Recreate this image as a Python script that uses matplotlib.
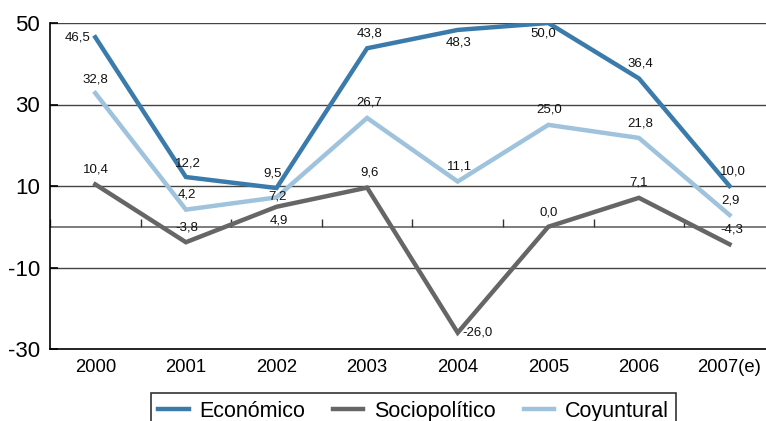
import matplotlib
matplotlib.use("Agg")
from matplotlib import pyplot as plt

plt.rcParams['font.family'] = ['Liberation Sans', 'DejaVu Sans']

years = ["2000", "2001", "2002", "2003", "2004", "2005", "2006", "2007(e)"]
economico = [46.5, 12.2, 9.5, 43.8, 48.3, 50.0, 36.4, 10.0]
sociopolitico = [10.4, -3.8, 4.9, 9.6, -26.0, 0.0, 7.1, -4.3]
coyuntural = [32.8, 4.2, 7.2, 26.7, 11.1, 25.0, 21.8, 2.9]
yticks = [50, 30, 10, -10, -30]

# label offsets in pixels (dx, dy, ha)
off_eco = [(-5, 0, "right"), (2, 14, "center"), (-4, 15, "center"), (2, 15, "center"),
           (1, -13, "center"), (-5, -11, "center"), (1, 15, "center"), (3, 14, "center")]
off_soc = [(1, 15, "center"), (1, 15, "center"), (2, -14, "center"), (2, 15, "center"),
           (5, 0, "left"), (0, 14, "center"), (0, 15, "center"), (2, 15, "center")]
off_coy = [(0, 14, "center"), (1, 15, "center"), (1, 1, "center"), (2, 15, "center"),
           (2, 15, "center"), (1, 15, "center"), (1, 14, "center"), (1, 14, "center")]

c_eco = "#3b7bab"
c_soc = "#666666"
c_coy = "#9fc2dd"

fig = plt.figure(figsize=(7.66, 4.21), dpi=100)
ax = fig.add_axes([50 / 766, 1 - 349 / 421, 716 / 766, 326 / 421])

x = list(range(len(years)))

for v in [50, 30, 10, -10]:
    ax.axhline(v, color="#444444", lw=1.0, zorder=1)
ax.axhline(0, color="#666666", lw=1.2, zorder=1)
ax.vlines([i - 0.5 for i in range(len(years))], 0, 2, color="#333333", lw=1.0, zorder=1)

ax.plot(x, economico, color=c_eco, lw=3.2, label="Económico", zorder=3, solid_joinstyle="miter")
ax.plot(x, sociopolitico, color=c_soc, lw=3.2, label="Sociopolítico", zorder=2, solid_joinstyle="miter")
ax.plot(x, coyuntural, color=c_coy, lw=3.2, label="Coyuntural", zorder=2, solid_joinstyle="miter")


def fmt(v):
    return f"{v:.1f}".replace(".", ",")


for vals, offs in [(economico, off_eco), (sociopolitico, off_soc), (coyuntural, off_coy)]:
    for i, v in enumerate(vals):
        dx, dy, ha = offs[i]
        ax.annotate(fmt(v), (i, v), xytext=(dx, dy), textcoords="offset pixels",
                    ha=ha, va="center", fontsize=9.5, color="#111111", zorder=5)

ax.set_xlim(-0.5, -0.5 + 716 / 90.6)
ax.set_ylim(-30, 50)
ax.set_yticks(yticks)
ax.set_yticklabels([str(v) for v in yticks])
ax.set_xticks(x)
ax.set_xticklabels(years)
ax.tick_params(axis="y", direction="in", length=6, width=1.2, labelsize=16, pad=7)
ax.tick_params(axis="x", length=0, labelsize=13.3, pad=7)

for s in ["top", "right"]:
    ax.spines[s].set_visible(False)
ax.spines["left"].set_color("black")
ax.spines["bottom"].set_color("black")
ax.spines["left"].set_linewidth(1.2)
ax.spines["bottom"].set_linewidth(1.2)

leg = fig.legend(loc="upper center", bbox_to_anchor=(413.5 / 766, 1 - 393 / 421), ncol=3,
                 fontsize=15.5, frameon=True, fancybox=False, edgecolor="black",
                 handlelength=1.4, handletextpad=0.5, columnspacing=1.3,
                 borderpad=0.35, borderaxespad=0)
leg.get_frame().set_linewidth(1.2)

fig.savefig("out.png", dpi=100)
